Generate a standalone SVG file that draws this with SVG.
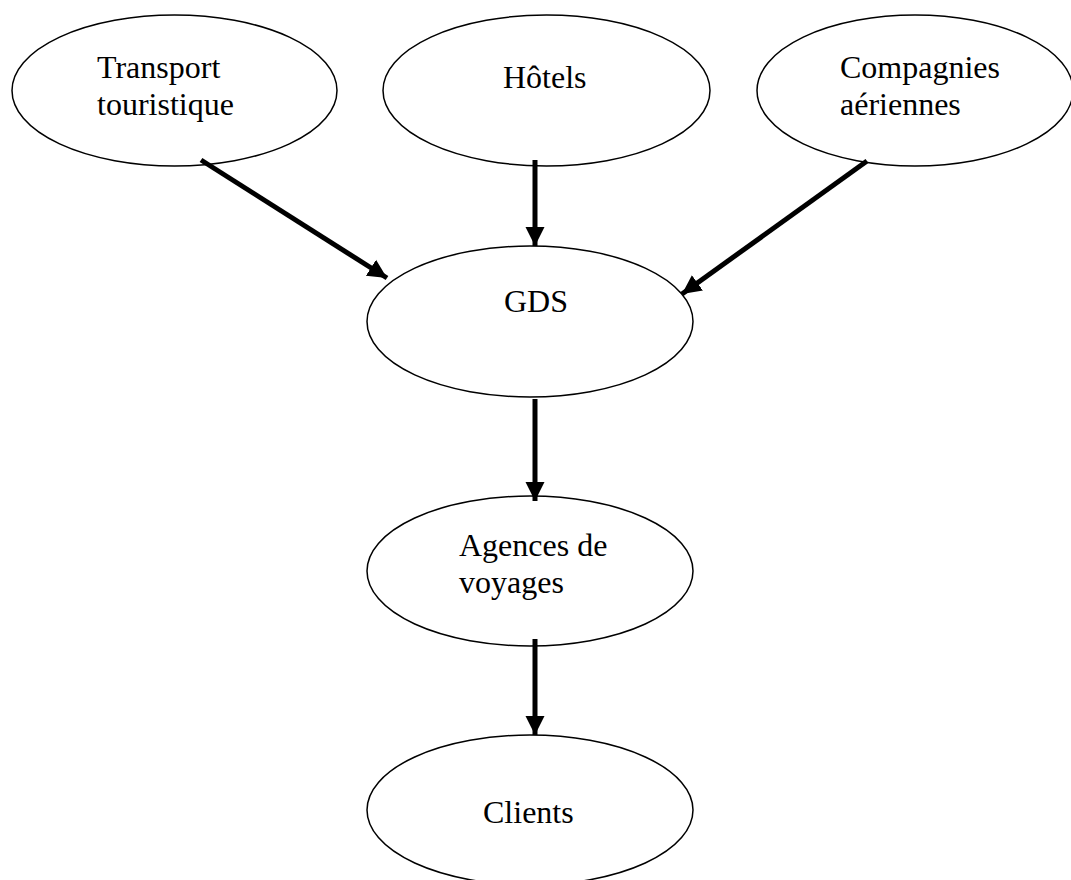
<svg xmlns="http://www.w3.org/2000/svg" width="1071" height="880" viewBox="0 0 1071 880">
<style>
.n{fill:#fff;stroke:#000;stroke-width:1.5}
.t{font-family:"Liberation Serif","Times New Roman",serif;font-size:32px;fill:#000}
.c{stroke:#000;stroke-width:5;fill:none;marker-end:url(#ah)}
</style>
<defs>
<marker id="ah" markerUnits="userSpaceOnUse" markerWidth="24" markerHeight="24" viewBox="0 0 24 24" refX="19" refY="12" orient="auto">
<path d="M0,2.5 L19,12 L0,21.5 Z" fill="#000"/>
</marker>
</defs>
<rect width="1071" height="880" fill="#fff"/>
<g id="n-transport">
<ellipse class="n" cx="174.5" cy="90.5" rx="162.5" ry="75.5"/>
<text class="t" x="97" y="78">Transport</text>
<text class="t" x="97" y="115">touristique</text>
</g>
<g id="n-hotels">
<ellipse class="n" cx="546.5" cy="90.5" rx="163.5" ry="75.5"/>
<text class="t" x="503" y="88">Hôtels</text>
</g>
<g id="n-compagnies">
<ellipse class="n" cx="915" cy="90.5" rx="158" ry="75.5"/>
<text class="t" x="840" y="78">Compagnies</text>
<text class="t" x="840" y="115">aériennes</text>
</g>
<g id="n-gds">
<ellipse class="n" cx="530" cy="321.5" rx="163" ry="75.5"/>
<text class="t" x="504" y="312">GDS</text>
</g>
<g id="n-agences">
<ellipse class="n" cx="530" cy="571" rx="163" ry="75"/>
<text class="t" x="459" y="556">Agences de</text>
<text class="t" x="459" y="593">voyages</text>
</g>
<g id="n-clients">
<ellipse class="n" cx="530" cy="810" rx="163" ry="75"/>
<text class="t" x="483" y="823">Clients</text>
</g>
<g id="connectors">
<line class="c" x1="201" y1="160" x2="387" y2="278"/>
<line class="c" x1="535" y1="160" x2="535" y2="246"/>
<line class="c" x1="867" y1="161" x2="682" y2="294"/>
<line class="c" x1="535" y1="399" x2="535" y2="501"/>
<line class="c" x1="535" y1="639" x2="535" y2="735"/>
</g>
</svg>
